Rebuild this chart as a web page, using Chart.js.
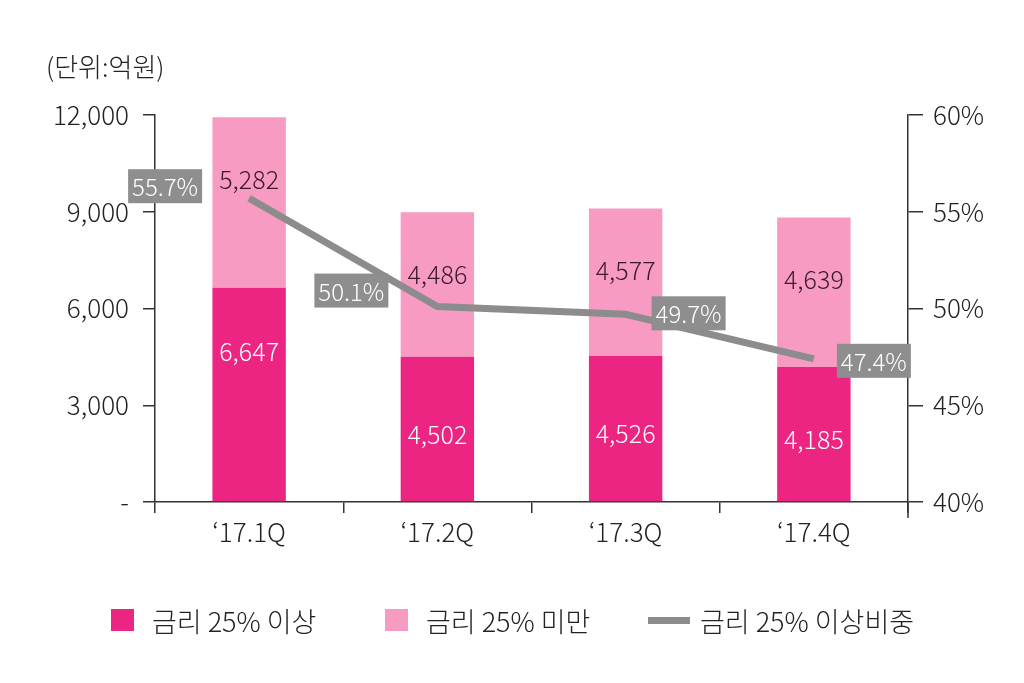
<!DOCTYPE html>
<html>
<head>
<meta charset="utf-8">
<script src="https://cdn.jsdelivr.net/npm/chart.js@4.4.0/dist/chart.umd.min.js"></script>
<style>
    body { margin: 0; background: #fff; }
    #wrap { position: relative; width: 1024px; height: 683px; font-family: "Noto Sans CJK KR", "Noto Sans", sans-serif; font-weight: 300; color: #222; }
    #unit { position: absolute; left: 46px; top: 47px; font-size: 26px; }
    .legend-item { position: absolute; top: 601px; font-size: 27px; display: flex; align-items: center; height: 38px; }
    .swatch { display: inline-block; width: 23px; height: 22px; margin-right: 18px; }
    .line-swatch { display: inline-block; width: 42px; height: 7px; margin-right: 10px; }
</style>
</head>
<body>
<div id="wrap">
    <canvas id="chart" width="1024" height="683"></canvas>
    <div id="unit">(단위:억원)</div>
    <div id="legend"></div>
</div>
<script>
// 데이터
const categories = ['\u201817.1Q', '\u201817.2Q', '\u201817.3Q', '\u201817.4Q'];
const over25 = [6647, 4502, 4526, 4185];
const under25 = [5282, 4486, 4577, 4639];
const over25Share = [55.7, 50.1, 49.7, 47.4];
const seriesNames = ['금리 25% 이상', '금리 25% 미만', '금리 25% 이상비중'];
const leftTicks = [0, 3000, 6000, 9000, 12000];
const rightTicks = [40, 45, 50, 55, 60];

const colors = ['#ec2482', '#f79bc2', '#8c8c8c'];
const font = { family: '"Noto Sans CJK KR", "Noto Sans", sans-serif', size: 26, weight: 300 };

// 범례
const legend = document.getElementById('legend');
const legendLeft = [111, 385, 648];
seriesNames.forEach((name, i) => {
    const item = document.createElement('div');
    item.className = 'legend-item';
    item.style.left = legendLeft[i] + 'px';
    const sw = document.createElement('span');
    sw.className = i === 2 ? 'line-swatch' : 'swatch';
    sw.style.background = colors[i];
    item.appendChild(sw);
    item.appendChild(document.createTextNode(name));
    legend.appendChild(item);
});

// 데이터 레이블 플러그인
const labelPlugin = {
    id: 'labels',
    afterDatasetsDraw(chart) {
        const ctx = chart.ctx;
        ctx.save();
        ctx.font = '300 25px "Noto Sans CJK KR", "Noto Sans", sans-serif';
        ctx.textAlign = 'center';
        ctx.textBaseline = 'middle';

        // 금리 25% 이상 (긴 막대는 위쪽, 나머지는 가운데)
        chart.getDatasetMeta(1).data.forEach((el, i) => {
            const h = el.base - el.y;
            const y = h > 180 ? el.y + 64 : (el.y + el.base) / 2 + 5;
            ctx.fillStyle = '#fff';
            ctx.fillText(over25[i].toLocaleString('en-US'), el.x, y);
        });
        // 금리 25% 미만 (막대 위쪽)
        chart.getDatasetMeta(2).data.forEach((el, i) => {
            ctx.fillStyle = '#3a1a28';
            ctx.fillText(under25[i].toLocaleString('en-US'), el.x, el.y + 62);
        });

        // 비중 라벨 박스
        ctx.font = '300 24px "Noto Sans CJK KR", "Noto Sans", sans-serif';
        const offsets = [[-84, -12], [-86, -16], [63, -1], [60, 2]];
        chart.getDatasetMeta(0).data.forEach((el, i) => {
            const cx = el.x + offsets[i][0];
            const cy = el.y + offsets[i][1];
            ctx.fillStyle = '#8e8e8e';
            ctx.fillRect(cx - 37, cy - 17, 74, 34);
            ctx.fillStyle = '#fff';
            ctx.fillText(over25Share[i].toFixed(1) + '%', cx, cy + 1);
        });
        ctx.restore();
    }
};

// 오른쪽 축 아래 연장선
const axisExtend = {
    id: 'axisExtend',
    afterDraw(chart) {
        const ctx = chart.ctx;
        const a = chart.chartArea;
        ctx.save();
        ctx.strokeStyle = '#333';
        ctx.lineWidth = 1.5;
        ctx.beginPath();
        ctx.moveTo(a.right, a.bottom);
        ctx.lineTo(a.right, a.bottom + 16);
        ctx.stroke();
        ctx.restore();
    }
};

new Chart(document.getElementById('chart'), {
    data: {
        labels: categories,
        datasets: [
            {
                type: 'line',
                label: seriesNames[2],
                data: over25Share,
                yAxisID: 'y1',
                borderColor: colors[2],
                borderWidth: 7,
                pointRadius: 0,
                tension: 0,
                order: 0
            },
            {
                type: 'bar',
                label: seriesNames[0],
                data: over25,
                backgroundColor: colors[0],
                yAxisID: 'y',
                stack: 's',
                categoryPercentage: 1,
                barPercentage: 0.39,
                order: 1
            },
            {
                type: 'bar',
                label: seriesNames[1],
                data: under25,
                backgroundColor: colors[1],
                yAxisID: 'y',
                stack: 's',
                categoryPercentage: 1,
                barPercentage: 0.39,
                order: 1
            }
        ]
    },
    options: {
        responsive: false,
        animation: false,
        layout: { padding: { top: 115, bottom: 121, left: 0, right: 0 } },
        plugins: {
            legend: { display: false },
            tooltip: { enabled: false }
        },
        scales: {
            x: {
                stacked: true,
                offset: true,
                grid: { offset: true, drawOnChartArea: false, tickLength: 11, color: '#333', lineWidth: 1.5 },
                border: { display: true, color: '#333', width: 1.5 },
                ticks: { color: '#222', font: font, padding: 4 },
                afterFit(scale) { scale.height = 60; }
            },
            y: {
                stacked: true,
                position: 'left',
                min: leftTicks[0],
                max: leftTicks[leftTicks.length - 1],
                afterBuildTicks(scale) { scale.ticks = leftTicks.map(v => ({ value: v })); },
                grid: { drawOnChartArea: false, tickLength: 12, color: '#333', lineWidth: 1.5 },
                border: { display: true, color: '#333', width: 1.5 },
                ticks: {
                    color: '#222',
                    font: font,
                    padding: 14,
                    callback: v => v === 0 ? '-' : v.toLocaleString('en-US')
                },
                afterFit(scale) { scale.width = 155; }
            },
            y1: {
                position: 'right',
                min: rightTicks[0],
                max: rightTicks[rightTicks.length - 1],
                afterBuildTicks(scale) { scale.ticks = rightTicks.map(v => ({ value: v })); },
                grid: { drawOnChartArea: false, tickLength: 15, color: '#333', lineWidth: 1.5 },
                border: { display: true, color: '#333', width: 1.5 },
                ticks: {
                    color: '#222',
                    font: font,
                    padding: 10,
                    callback: v => v + '%'
                },
                afterFit(scale) { scale.width = 116; }
            }
        }
    },
    plugins: [labelPlugin, axisExtend]
});
</script>
</body>
</html>
